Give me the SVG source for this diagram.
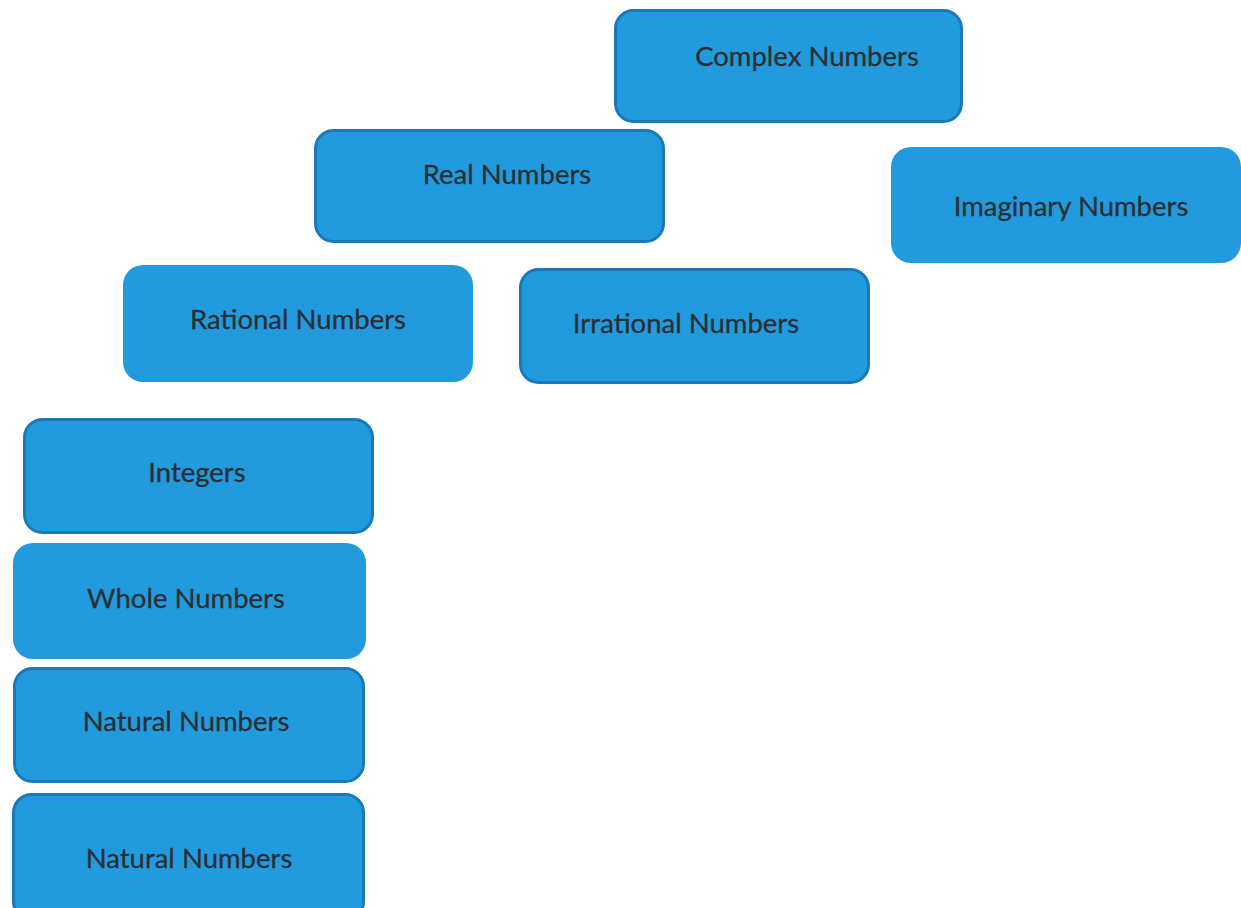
<svg xmlns="http://www.w3.org/2000/svg" width="1241" height="908" viewBox="0 0 1241 908">
<style>
.box{fill:#229ade;}
.bd{stroke:#1b79b9;stroke-width:3;}
.t{font-family:Lato,"Open Sans","Liberation Sans",sans-serif;font-size:27.5px;fill:#2b2f33;text-anchor:middle;stroke:#2b2f33;stroke-width:0.3;}
</style>
<rect width="1241" height="908" fill="#ffffff"/>
<g id="connectors"></g>
<g id="complex"><rect class="box bd" x="615.5" y="10.5" width="346" height="111" rx="18"/><text class="t" x="807" y="66">Complex Numbers</text></g>
<g id="real"><rect class="box bd" x="315.5" y="130.5" width="348" height="111" rx="18"/><text class="t" x="507" y="184">Real Numbers</text></g>
<g id="imaginary"><rect class="box" x="891" y="147" width="350" height="116" rx="20"/><text class="t" x="1071" y="216">Imaginary Numbers</text></g>
<g id="rational"><rect class="box" x="123" y="265" width="350" height="117" rx="20"/><text class="t" x="298" y="329">Rational Numbers</text></g>
<g id="irrational"><rect class="box bd" x="520.5" y="269.5" width="348" height="113" rx="18"/><text class="t" x="686" y="333">Irrational Numbers</text></g>
<g id="integers"><rect class="box bd" x="24.5" y="419.5" width="348" height="113" rx="18"/><text class="t" x="197" y="482">Integers</text></g>
<g id="whole"><rect class="box" x="13" y="543" width="353" height="116" rx="20"/><text class="t" x="186" y="608">Whole Numbers</text></g>
<g id="natural1"><rect class="box bd" x="14.5" y="668.5" width="349" height="113" rx="18"/><text class="t" x="186" y="731">Natural Numbers</text></g>
<g id="natural2"><rect class="box bd" x="13.5" y="794.5" width="350" height="125" rx="18"/><text class="t" x="189" y="868">Natural Numbers</text></g>
</svg>
